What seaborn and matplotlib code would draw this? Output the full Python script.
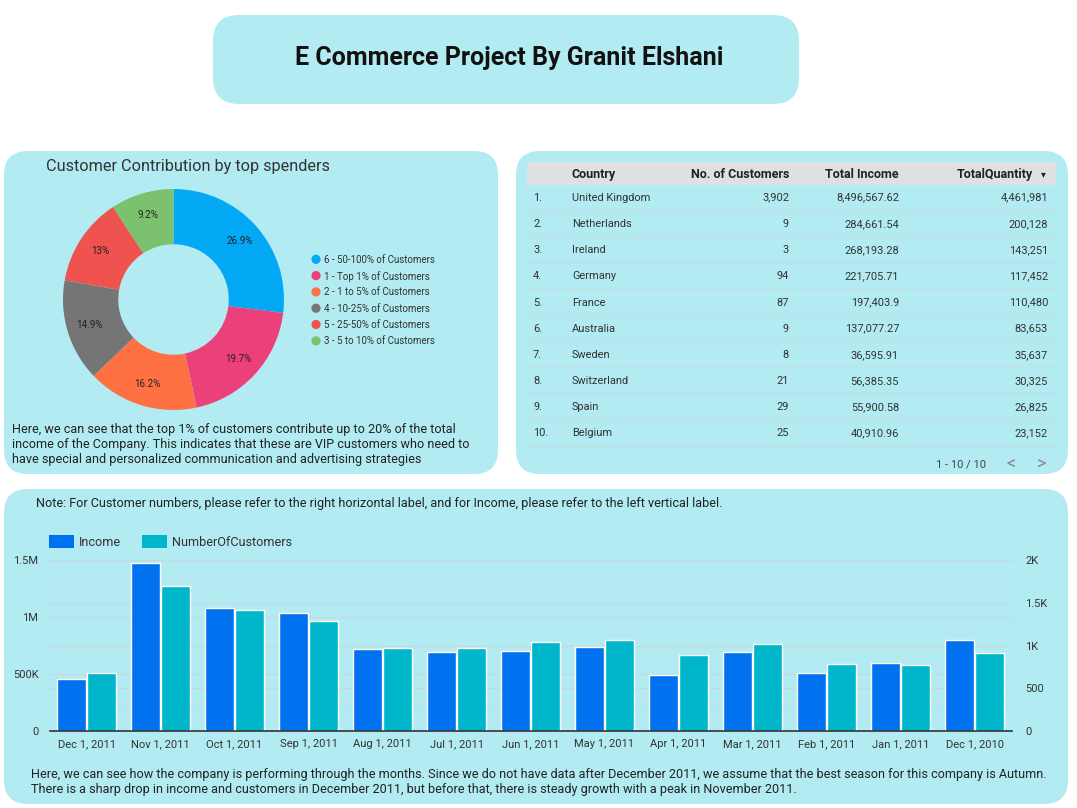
import matplotlib
matplotlib.use("Agg")
import matplotlib.pyplot as plt
import seaborn as sns
import pandas as pd
import numpy as np
from matplotlib.patches import FancyBboxPatch, Rectangle, Circle

sns.set_theme(style="white")
plt.rcParams['font.family'] = ['Roboto', 'DejaVu Sans']

# ---------------- data ----------------
title_text = "E Commerce Project By Granit Elshani"

segments = ["6 - 50-100% of Customers", "1 - Top 1% of Customers", "2 - 1 to 5% of Customers",
            "4 - 10-25% of Customers", "5 - 25-50% of Customers", "3 - 5 to 10% of Customers"]
shares = [26.9, 19.7, 16.2, 14.9, 13.0, 9.2]
share_labels = ["26.9%", "19.7%", "16.2%", "14.9%", "13%", "9.2%"]
segment_colors = ["#03a9f4", "#ec407a", "#ff7043", "#757575", "#ef5350", "#7cc16e"]

table_headers = ["Country", "No. of Customers", "Total Income", "TotalQuantity"]
countries = ["United Kingdom", "Netherlands", "Ireland", "Germany", "France",
             "Australia", "Sweden", "Switzerland", "Spain", "Belgium"]
n_cust_country = [3902, 9, 3, 94, 87, 9, 8, 21, 29, 25]
total_income = [8496567.62, 284661.54, 268193.28, 221705.71, 197403.9,
                137077.27, 36595.91, 56385.35, 55900.58, 40910.96]
total_quantity = [4461981, 200128, 143251, 117452, 110480, 83653, 35637, 30325, 26825, 23152]

months = ["Dec 1, 2011", "Nov 1, 2011", "Oct 1, 2011", "Sep 1, 2011", "Aug 1, 2011",
          "Jul 1, 2011", "Jun 1, 2011", "May 1, 2011", "Apr 1, 2011", "Mar 1, 2011",
          "Feb 1, 2011", "Jan 1, 2011", "Dec 1, 2010"]
income = [459000, 1471000, 1082000, 1032000, 719000, 696000, 702000,
          734000, 491000, 696000, 506000, 594000, 798000]
n_customers = [675, 1696, 1415, 1287, 971, 971, 1041, 1064, 885, 1014, 780, 768, 916]

left_ticks = [0, 500000, 1000000, 1500000]
left_tick_labels = ["0", "500K", "1M", "1.5M"]
right_ticks = [0, 500, 1000, 1500, 2000]
right_tick_labels = ["0", "500", "1K", "1.5K", "2K"]

donut_title = "Customer Contribution by top spenders"
donut_note = ["Here, we can see that the top 1% of customers contribute up to 20% of the total",
              "income of the Company. This indicates that these are VIP customers who need to",
              "have special and personalized communication and advertising strategies"]
bar_note = "Note: For Customer numbers, please refer to the right horizontal label, and for Income, please refer to the left vertical label."
bar_text = ["Here, we can see how the company is performing through the months. Since we do not have data after December 2011, we assume that the best season for this company is Autumn.",
            "There is a sharp drop in income and customers in December 2011, but before that, there is steady growth with a peak in November 2011."]

# ---------------- layout ----------------
W, H = 1077, 808
BG = "#b2ebf2"
TXT = "#222222"
DY = 1.5  # small vertical nudge for text centring

fig = plt.figure(figsize=(W / 100, H / 100), dpi=100)
fig.patch.set_facecolor("white")
bg = fig.add_axes([0, 0, 1, 1])
bg.set_xlim(0, W)
bg.set_ylim(H, 0)
bg.axis("off")


def panel(x, y, w, h, r=24):
    bg.add_patch(FancyBboxPatch((x, y), w, h, boxstyle=f"round,pad=0,rounding_size={r}",
                                facecolor=BG, edgecolor="none", zorder=0))


panel(213, 15, 586, 89, 26)
panel(4, 151, 494, 323)
panel(516, 151, 552, 323)
panel(4, 489, 1064, 315)

bg.text(509, 56 + DY, title_text, ha="center", va="center", fontsize=18, fontweight="bold", color="#111111")

# ---------------- donut ----------------
bg.text(46, 165 + DY, donut_title, ha="left", va="center", fontsize=11.7, color="#333333")
cx, cy, R = 173.5, 299.5, 110.5
axd = fig.add_axes([(cx - R) / W, 1 - (cy + R) / H, 2 * R / W, 2 * R / H])
wedges, _ = axd.pie(shares, colors=segment_colors, startangle=90, counterclock=False,
                    radius=1, wedgeprops=dict(width=0.5, edgecolor="none"))
axd.set_xlim(-1, 1)
axd.set_ylim(-1, 1)
axd.axis("off")
for w, lab in zip(wedges, share_labels):
    th = np.deg2rad((w.theta1 + w.theta2) / 2)
    axd.text(0.8 * np.cos(th), 0.8 * np.sin(th), lab, ha="center", va="center",
             fontsize=7, color="#222222")

leg_y0, leg_dy = 259.3, 16.3
for i, (seg, col) in enumerate(zip(segments, segment_colors)):
    yy = leg_y0 + i * leg_dy
    bg.add_patch(Circle((316, yy), 4.6, facecolor=col, edgecolor="none"))
    bg.text(324.5, yy + 0.5, seg, ha="left", va="center", fontsize=7, color="#333333")

for i, line in enumerate(donut_note):
    bg.text(11.5, 428.3 + i * 15 + DY, line, ha="left", va="center", fontsize=9.05, color=TXT)

# ---------------- table ----------------
bg.add_patch(Rectangle((527, 161.5), 529, 23, facecolor="#e0e0e0", edgecolor="none"))
hy = 173 + DY
bg.text(572, hy, table_headers[0], ha="left", va="center", fontsize=9, fontweight="bold", color=TXT)
bg.text(789, hy, table_headers[1], ha="right", va="center", fontsize=9, fontweight="bold", color=TXT)
bg.text(899, hy, table_headers[2], ha="right", va="center", fontsize=9, fontweight="bold", color=TXT)
bg.text(1033, hy, table_headers[3], ha="right", va="center", fontsize=9, fontweight="bold", color=TXT)
bg.text(1043, hy, "▾", ha="center", va="center", fontsize=7, color=TXT)


def fmt_money(v):
    s = f"{v:,.2f}"
    s = s.rstrip("0").rstrip(".")
    return s


row_y0, row_dy = 196.2, 26.2
for i in range(len(countries)):
    yy = row_y0 + i * row_dy
    ty = yy + DY
    bg.text(533, ty, f"{i + 1}.", ha="left", va="center", fontsize=7.9, color="#333333")
    bg.text(572, ty, countries[i], ha="left", va="center", fontsize=7.9, color="#333333")
    bg.text(789, ty, f"{n_cust_country[i]:,}", ha="right", va="center", fontsize=7.9, color="#333333")
    bg.text(899, ty, fmt_money(total_income[i]), ha="right", va="center", fontsize=7.9, color="#333333")
    bg.text(1048, ty, f"{total_quantity[i]:,}", ha="right", va="center", fontsize=7.9, color="#333333")
    bg.plot([527, 1056], [yy + 13.5, yy + 13.5], color="#c5dee2", lw=0.8)

bg.text(961, 463 + DY, "1 - 10 / 10", ha="center", va="center", fontsize=8, color="#444444")
bg.text(1011, 465, "<", ha="center", va="center", fontsize=13, color="#8a8a8a")
bg.text(1042, 465, ">", ha="center", va="center", fontsize=13, color="#8a8a8a")

# ---------------- bar chart ----------------
bg.text(36, 502 + DY, bar_note, ha="left", va="center", fontsize=9.05, color=TXT)
inc_col, cus_col = "#0072f0", "#00b6cb"
hue_order = ["Income", "NumberOfCustomers"]
pal = {"Income": inc_col, "NumberOfCustomers": cus_col}

bg.add_patch(Rectangle((49, 535), 25, 13, facecolor=inc_col, edgecolor="none"))
bg.text(79, 541.5 + DY, hue_order[0], ha="left", va="center", fontsize=9.05, color="#333333")
bg.add_patch(Rectangle((142, 535), 25, 13, facecolor=cus_col, edgecolor="none"))
bg.text(172, 541.5 + DY, hue_order[1], ha="left", va="center", fontsize=9.05, color="#333333")

x0, x1, ytop, ybot = 49.5, 1011.5, 560, 731
axb = fig.add_axes([x0 / W, 1 - ybot / H, (x1 - x0) / W, (ybot - ytop) / H])
axb.patch.set_alpha(0)

df_inc = pd.DataFrame({"month": months, "value": income, "series": "Income"})
df_cus = pd.DataFrame({"month": months, "value": n_customers, "series": "NumberOfCustomers"})

sns.barplot(data=df_inc, x="month", y="value", hue="series", hue_order=hue_order,
            order=months, palette=pal, ax=axb, width=0.8, gap=0.02, saturation=1,
            dodge=True, errorbar=None, legend=False, zorder=3)
axb2 = axb.twinx()
sns.barplot(data=df_cus, x="month", y="value", hue="series", hue_order=hue_order,
            order=months, palette=pal, ax=axb2, width=0.8, gap=0.02, saturation=1,
            dodge=True, errorbar=None, legend=False, zorder=3)

axb.set_ylim(0, left_ticks[-1])
axb2.set_ylim(0, right_ticks[-1])
axb.set_xlim(-0.5, len(months) - 0.5)

# gridlines (all drawn on the lower axes so they stay behind every bar)
scale = left_ticks[-1] / right_ticks[-1]
for v in np.arange(250000, left_ticks[-1] + 1, 250000):
    major = v % 500000 == 0
    axb.axhline(v, color="#c3dbdf" if major else "#c0e2e7", lw=0.9, zorder=0)
for v in np.arange(250, right_ticks[-1] + 1, 250):
    major = v % 500 == 0
    axb.axhline(v * scale, color="#c3dbdf" if major else "#c0e2e7", lw=0.9, zorder=0)

axb.set_yticks(left_ticks)
axb.set_yticklabels(left_tick_labels)
axb2.set_yticks(right_ticks)
axb2.set_yticklabels(right_tick_labels)
axb.set_xlabel("")
axb.set_ylabel("")
axb2.set_xlabel("")
axb2.set_ylabel("")
axb.tick_params(axis="y", length=0, pad=8, labelsize=8, labelcolor="#333333")
axb2.tick_params(axis="y", length=0, pad=10, labelsize=8, labelcolor="#333333")
axb.tick_params(axis="x", length=0, pad=6, labelsize=8, labelcolor="#333333")
for a in (axb, axb2):
    for s in a.spines.values():
        s.set_visible(False)
axb2.spines["bottom"].set_visible(True)
axb2.spines["bottom"].set_color("#333333")
axb2.spines["bottom"].set_linewidth(1.2)
axb2.spines["bottom"].set_zorder(10)
axb.grid(False)
axb2.grid(False)

for i, line in enumerate(bar_text):
    bg.text(31, 773 + i * 15 + DY, line, ha="left", va="center", fontsize=9.05, color=TXT)

fig.savefig("out.png", dpi=100, facecolor="white")
